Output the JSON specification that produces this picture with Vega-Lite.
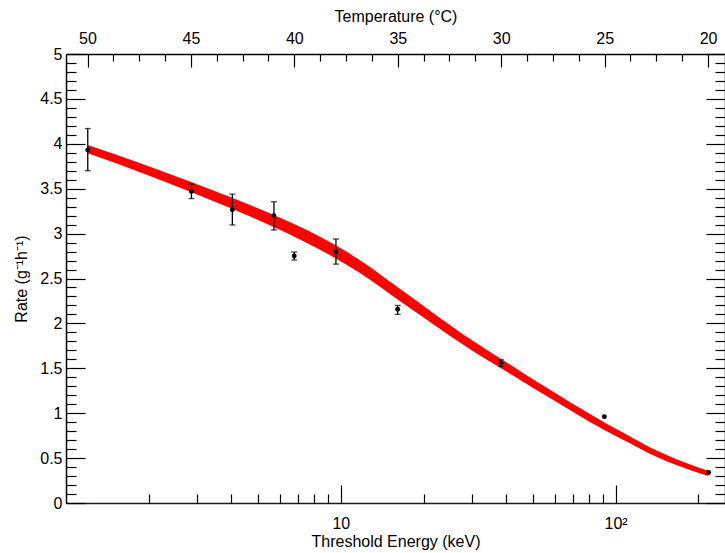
{
  "$schema": "https://vega.github.io/schema/vega-lite/v6.json",
  "width": 659,
  "height": 449,
  "autosize": "none",
  "padding": {"left": 66, "top": 54, "right": 0, "bottom": 50},
  "background": "white",
  "datasets": {
    "curve": [
      {"E": 1.2, "lo": 3.894, "hi": 3.986},
      {"E": 1.8, "lo": 3.70, "hi": 3.80},
      {"E": 2.85, "lo": 3.464, "hi": 3.576},
      {"E": 4.0, "lo": 3.279, "hi": 3.401},
      {"E": 5.7, "lo": 3.074, "hi": 3.206},
      {"E": 7.1, "lo": 2.935, "hi": 3.075},
      {"E": 9.6, "lo": 2.723, "hi": 2.867},
      {"E": 11.7, "lo": 2.563, "hi": 2.707},
      {"E": 16, "lo": 2.272, "hi": 2.408},
      {"E": 20, "lo": 2.066, "hi": 2.194},
      {"E": 25, "lo": 1.86, "hi": 1.98},
      {"E": 30, "lo": 1.699, "hi": 1.811},
      {"E": 38.3, "lo": 1.50, "hi": 1.604},
      {"E": 46, "lo": 1.351, "hi": 1.449},
      {"E": 57.7, "lo": 1.169, "hi": 1.261},
      {"E": 72, "lo": 0.991, "hi": 1.079},
      {"E": 91, "lo": 0.813, "hi": 0.897},
      {"E": 110, "lo": 0.681, "hi": 0.759},
      {"E": 133, "lo": 0.549, "hi": 0.621},
      {"E": 170, "lo": 0.413, "hi": 0.477},
      {"E": 217, "lo": 0.302, "hi": 0.358}
    ],
    "pts": [
      {"E": 1.2, "v": 3.93},
      {"E": 2.86, "v": 3.47},
      {"E": 4.03, "v": 3.266},
      {"E": 5.71, "v": 3.20},
      {"E": 6.77, "v": 2.75},
      {"E": 9.6, "v": 2.80},
      {"E": 16.1, "v": 2.158},
      {"E": 38.3, "v": 1.557},
      {"E": 91, "v": 0.96},
      {"E": 218, "v": 0.34}
    ],
    "err": [
      {"E": 1.2, "lo": 3.70, "hi": 4.17},
      {"E": 2.86, "lo": 3.39, "hi": 3.55},
      {"E": 4.03, "lo": 3.096, "hi": 3.44},
      {"E": 5.71, "lo": 3.04, "hi": 3.355},
      {"E": 6.77, "lo": 2.706, "hi": 2.795},
      {"E": 9.6, "lo": 2.66, "hi": 2.94},
      {"E": 16.1, "lo": 2.10, "hi": 2.20},
      {"E": 38.3, "lo": 1.52, "hi": 1.594}
    ],
    "temp": [
      {"T": 19.18},
      {"T": 51.04}
    ]
  },
  "layer": [
    {
      "data": {"name": "curve"},
      "mark": {"type": "area", "color": "#ff0000", "interpolate": "monotone"},
      "encoding": {
        "x": {"field": "E", "type": "quantitative",
              "scale": {"type": "log", "domain": [1, 250], "nice": false},
              "axis": {"orient": "bottom", "values": [10, 100],
                       "labelExpr": "datum.value == 10 ? '10' : '10²'",
                       "tickSize": -18, "tickWidth": 1.2, "labelPadding": 30,
                       "domainWidth": 1.6, "domainColor": "#1a1a2e",
                       "title": "Threshold Energy (keV)", "titlePadding": 2,
                       "labelFlush": false, "labelOverlap": false}},
        "y": {"field": "lo", "type": "quantitative",
              "scale": {"domain": [0, 5], "nice": false, "zero": false},
              "axis": {"orient": "left", "values": [0, 0.5, 1, 1.5, 2, 2.5, 3, 3.5, 4, 4.5, 5],
                       "labelExpr": "datum.value + ''",
                       "tickSize": -19, "tickWidth": 1.2, "labelPadding": 23,
                       "domainWidth": 1.5,
                       "title": "Rate (g⁻¹h⁻¹)", "titlePadding": 10,
                       "labelFlush": false, "labelOverlap": false}},
        "y2": {"field": "hi"}
      }
    },
    {
      "data": {"name": "err"},
      "mark": {"type": "rule", "color": "black", "strokeWidth": 1.3},
      "encoding": {
        "x": {"field": "E", "type": "quantitative",
              "scale": {"type": "log", "domain": [1, 250], "nice": false},
              "axis": {"orient": "bottom", "values": [2, 3, 4, 5, 6, 7, 8, 9, 20, 30, 40, 50, 60, 70, 80, 90, 200],
                       "labels": false, "tickSize": -9, "tickWidth": 1.2, "domain": false, "title": null}},
        "y": {"field": "lo", "type": "quantitative",
              "scale": {"domain": [0, 5], "nice": false, "zero": false},
              "axis": {"orient": "left",
                       "values": [0.1, 0.2, 0.3, 0.4, 0.6, 0.7, 0.8, 0.9, 1.1, 1.2, 1.3, 1.4, 1.6, 1.7, 1.8, 1.9, 2.1, 2.2, 2.3, 2.4, 2.6, 2.7, 2.8, 2.9, 3.1, 3.2, 3.3, 3.4, 3.6, 3.7, 3.8, 3.9, 4.1, 4.2, 4.3, 4.4, 4.6, 4.7, 4.8, 4.9],
                       "labels": false, "tickSize": -10, "tickWidth": 1.2, "domain": false, "title": null}},
        "y2": {"field": "hi"}
      }
    },
    {
      "data": {"name": "err"},
      "mark": {"type": "tick", "orient": "horizontal", "color": "black", "size": 6, "thickness": 1.3},
      "encoding": {
        "x": {"field": "E", "type": "quantitative",
              "scale": {"type": "log", "domain": [1, 250], "nice": false}, "axis": null},
        "y": {"field": "hi", "type": "quantitative",
              "scale": {"domain": [0, 5], "nice": false, "zero": false},
              "axis": {"orient": "right", "values": [0, 0.5, 1, 1.5, 2, 2.5, 3, 3.5, 4, 4.5, 5],
                       "labels": false, "tickSize": -19, "tickWidth": 1.2, "domainWidth": 1.5, "title": null}}
      }
    },
    {
      "data": {"name": "err"},
      "mark": {"type": "tick", "orient": "horizontal", "color": "black", "size": 6, "thickness": 1.3},
      "encoding": {
        "x": {"field": "E", "type": "quantitative",
              "scale": {"type": "log", "domain": [1, 250], "nice": false}, "axis": null},
        "y": {"field": "lo", "type": "quantitative",
              "scale": {"domain": [0, 5], "nice": false, "zero": false},
              "axis": {"orient": "right",
                       "values": [0.1, 0.2, 0.3, 0.4, 0.6, 0.7, 0.8, 0.9, 1.1, 1.2, 1.3, 1.4, 1.6, 1.7, 1.8, 1.9, 2.1, 2.2, 2.3, 2.4, 2.6, 2.7, 2.8, 2.9, 3.1, 3.2, 3.3, 3.4, 3.6, 3.7, 3.8, 3.9, 4.1, 4.2, 4.3, 4.4, 4.6, 4.7, 4.8, 4.9],
                       "labels": false, "tickSize": -10, "tickWidth": 1.2, "domain": false, "title": null}}
      }
    },
    {
      "data": {"name": "pts"},
      "mark": {"type": "point", "filled": true, "color": "black", "opacity": 1, "size": 24},
      "encoding": {
        "x": {"field": "E", "type": "quantitative",
              "scale": {"type": "log", "domain": [1, 250], "nice": false}, "axis": null},
        "y": {"field": "v", "type": "quantitative",
              "scale": {"domain": [0, 5], "nice": false, "zero": false}, "axis": null}
      }
    },
    {
      "data": {"name": "temp"},
      "mark": {"type": "point", "opacity": 0},
      "encoding": {
        "x": {"field": "T", "type": "quantitative",
              "scale": {"domain": [19.18, 51.04], "reverse": true, "nice": false, "zero": false},
              "axis": {"orient": "top", "values": [50, 45, 40, 35, 30, 25, 20],
                       "tickSize": -13, "tickWidth": 1.2, "labelPadding": 21,
                       "domainWidth": 1.5,
                       "title": "Temperature (°C)", "titlePadding": 6,
                       "labelFlush": false, "labelOverlap": false}}
      }
    },
    {
      "data": {"name": "temp"},
      "mark": {"type": "point", "opacity": 0},
      "encoding": {
        "x": {"field": "T", "type": "quantitative",
              "scale": {"domain": [19.18, 51.04], "reverse": true, "nice": false, "zero": false},
              "axis": {"orient": "top",
                       "values": [48.75, 47.5, 46.25, 43.75, 42.5, 41.25, 38.75, 37.5, 36.25, 33.75, 32.5, 31.25, 28.75, 27.5, 26.25, 23.75, 22.5, 21.25],
                       "labels": false, "tickSize": -7, "tickWidth": 1.2, "domain": false, "title": null}}
      }
    }
  ],
  "resolve": {
    "scale": {"x": "independent"},
    "axis": {"x": "independent", "y": "independent"}
  },
  "config": {
    "view": {"stroke": null},
    "font": "Liberation Sans",
    "axis": {
      "grid": false,
      "labelFont": "Liberation Sans",
      "titleFont": "Liberation Sans",
      "labelFontSize": 16,
      "titleFontSize": 16,
      "titleFontWeight": "normal",
      "labelColor": "black",
      "titleColor": "black",
      "domainColor": "black",
      "tickColor": "black"
    }
  }
}
